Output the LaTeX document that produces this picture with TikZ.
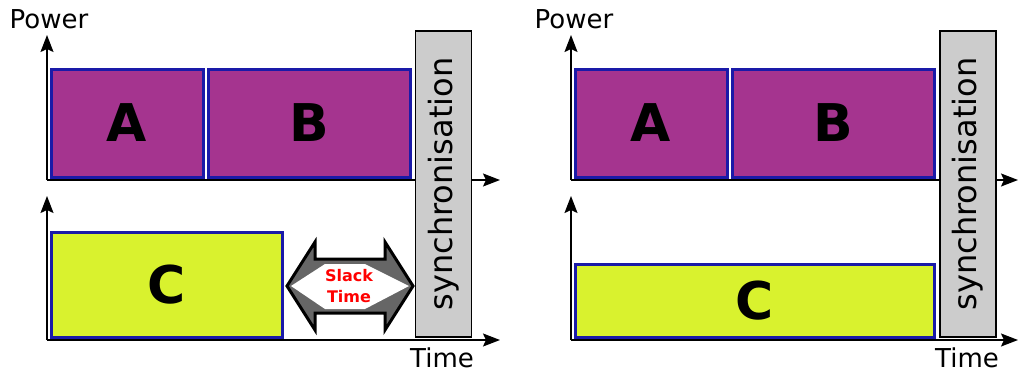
\documentclass[tikz,border=0pt]{standalone}
\usepackage{fontspec}
\setmainfont{DejaVu Sans}
\usetikzlibrary{arrows.meta,positioning,calc}
\definecolor{taskpurple}{HTML}{A5348F}
\definecolor{tasklime}{HTML}{D9F22E}
\definecolor{taskedge}{HTML}{1A1AA8}
\definecolor{syncgrey}{HTML}{CCCCCC}
\definecolor{slackgrey}{HTML}{666666}
\definecolor{slackred}{HTML}{FF0000}
\tikzset{
  >={Stealth[length=17pt,width=13pt,inset=3pt]},
  % axlar
  axis/.style={->,draw=black,line width=1.6pt},
  axlbl/.style={inner sep=0pt,font=\fontsize{26}{26}\selectfont},
  % uppgifter
  task/.style={rectangle,draw=taskedge,line width=3pt,inner sep=0pt,
               font=\fontsize{52}{52}\selectfont\bfseries},
  tpurple/.style={task,fill=taskpurple},
  tlime/.style={task,fill=tasklime},
  sync/.style={rectangle,draw=black,fill=syncgrey,line width=1.6pt,inner sep=0pt,
               minimum width=56pt,minimum height=306pt},
  synclbl/.style={rotate=90,inner sep=0pt,font=\fontsize{32}{32}\selectfont},
  slack/.style={draw=black,fill=slackgrey,line width=3pt},
  slacklbl/.style={text=slackred,align=center,inner sep=0pt,
                   font=\fontsize{16}{21}\selectfont\bfseries},
}
\begin{document}
\begin{tikzpicture}[x=1pt,y=-1pt]
  \useasboundingbox (0,0) rectangle (1018,373);
  % vänster
  \coordinate (lo1) at (47,180);
  \coordinate (ly1) at (47,35);
  \coordinate (lx1) at (500,180);
  \coordinate (lo2) at (47,340);
  \coordinate (ly2) at (47,196);
  \coordinate (lx2) at (500,340);
  \draw[axis] (lo1) -- (ly1);
  \draw[axis] (lo1) -- (lx1);
  \draw[axis] (lo2) -- (ly2);
  \draw[axis] (lo2) -- (lx2);
  \node[axlbl] (lpow) at (49,19) {Power};
  \node[axlbl] (ltime) at (442,358) {Time};
  \node[tpurple,minimum width=152pt,minimum height=108pt] (la) at (127,123) {A};
  \node[tpurple,minimum width=202pt,minimum height=108pt] (lb) at (309,123) {B};
  \node[tlime,minimum width=231pt,minimum height=105pt] (lc) at (166.5,284.5) {C};
  \node[sync] (lsync) at (443.5,184) {};
  \node[synclbl] at (lsync.center) {synchronisation};
  \draw[slack] (287,286) -- (315,242) -- (315,259) -- (385,259) -- (385,242)
    -- (413,286) -- (385,330) -- (385,313) -- (315,313) -- (315,330) -- cycle;
  \fill[white] (291,286) -- (325,264) -- (365,264) -- (409,286) -- (365,309)
    -- (325,309) -- cycle;
  \node[slacklbl] (slack) at (349,286) {Slack\\Time};
  % höger
  \coordinate (ro1) at (571,180);
  \coordinate (ry1) at (571,35);
  \coordinate (rx1) at (1018,180);
  \coordinate (ro2) at (571,340);
  \coordinate (ry2) at (571,196);
  \coordinate (rx2) at (1018,340);
  \draw[axis] (ro1) -- (ry1);
  \draw[axis] (ro1) -- (rx1);
  \draw[axis] (ro2) -- (ry2);
  \draw[axis] (ro2) -- (rx2);
  \node[axlbl] (rpow) at (574,19) {Power};
  \node[axlbl] (rtime) at (967,358) {Time};
  \node[tpurple,minimum width=152pt,minimum height=108pt] (ra) at (651,123) {A};
  \node[tpurple,minimum width=202pt,minimum height=108pt] (rb) at (833,123) {B};
  \node[tlime,minimum width=359pt,minimum height=73pt] (rc) at (754.5,300.5) {C};
  \node[sync] (rsync) at (968,184) {};
  \node[synclbl] at (rsync.center) {synchronisation};
\end{tikzpicture}
\end{document}
